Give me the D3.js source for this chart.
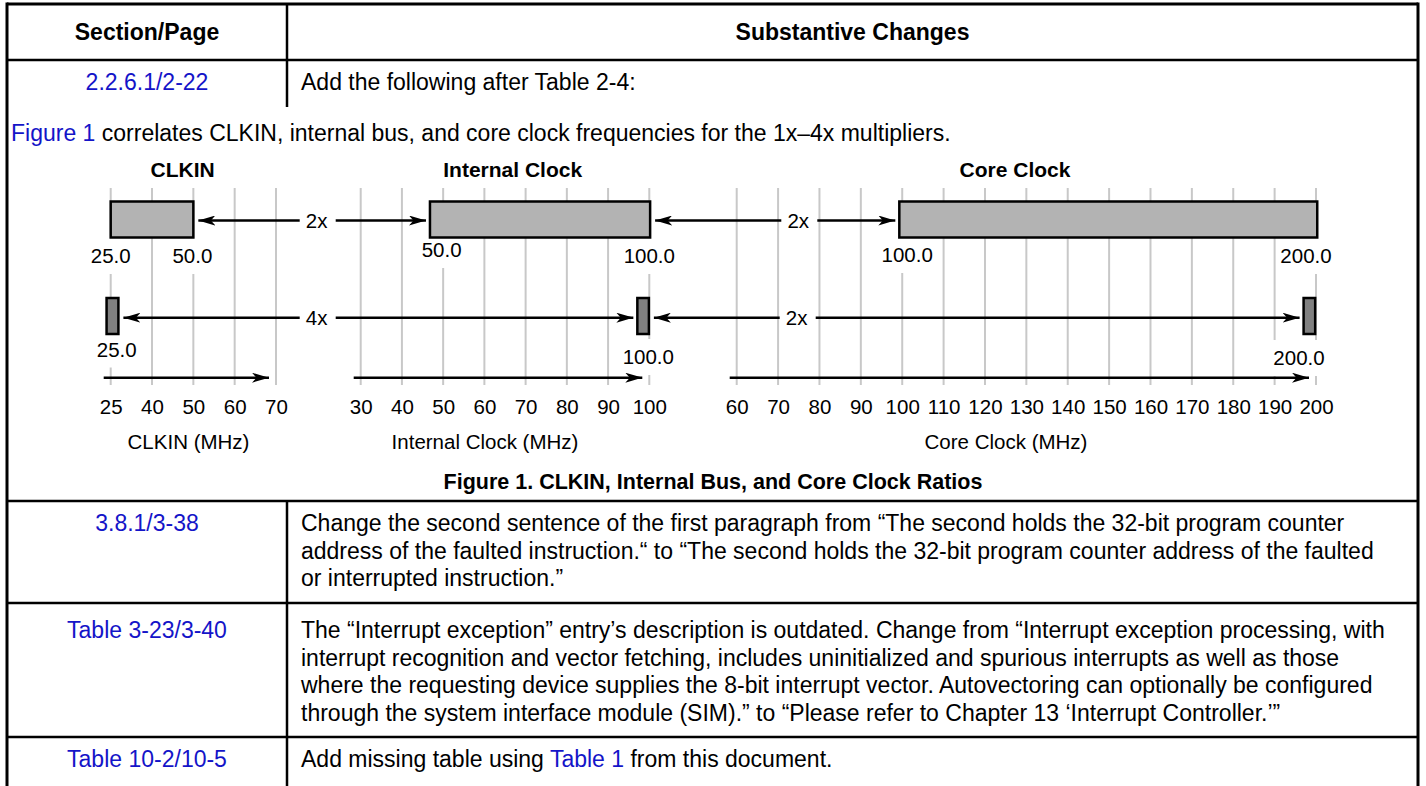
<!DOCTYPE html>
<html><head><meta charset="utf-8">
<script src="https://cdn.jsdelivr.net/npm/d3@7"></script>
<style>
body{margin:0;background:#fff}
svg{display:block}
text{font-family:"Liberation Sans",Arial,Helvetica,sans-serif;fill:#000}
</style>
</head><body>
<svg id="c" width="1426" height="786"></svg>
<script>
// ---------------- data ----------------
const panelNames = ["CLKIN", "Internal Clock", "Core Clock"];
const axisTitles = ["CLKIN (MHz)", "Internal Clock (MHz)", "Core Clock (MHz)"];
const clkinTicks = [25, 40, 50, 60, 70];
const internalTicks = [30, 40, 50, 60, 70, 80, 90, 100];
const coreTicks = [60, 70, 80, 90, 100, 110, 120, 130, 140, 150, 160, 170, 180, 190, 200];
// 2x row: range bars (MHz, as drawn)
const rangeBarStart = [25, 46.8, 99.3];
const rangeBarEnd = [50, 100.2, 200.3];
// 4x row: narrow bars (MHz, as drawn)
const pointBarStart = [23.5, 97.1, 197.0];
const pointBarEnd = [27.8, 99.9, 199.8];
const rangeLabelValues = [[25, 50], [50, 100], [100, 200]];
const rangeLabelText = [["25.0", "50.0"], ["50.0", "100.0"], ["100.0", "200.0"]];
const pointLabelValues = [25, 100, 200];
const pointLabelText = ["25.0", "100.0", "200.0"];
const ratioRow1 = ["2x", "2x"];
const ratioRow2 = ["4x", "2x"];

const headerCols = ["Section/Page", "Substantive Changes"];
const sectionRefs = ["2.2.6.1/2-22", "3.8.1/3-38", "Table 3-23/3-40", "Table 10-2/10-5"];
const row1Text = ["Add the following after Table 2-4:"];
const figIntro = [["Figure 1", true], [" correlates CLKIN, internal bus, and core clock frequencies for the 1x\u20134x multipliers.", false]];
const caption = "Figure 1. CLKIN, Internal Bus, and Core Clock Ratios";
const row2Text = [
  "Change the second sentence of the first paragraph from \u201CThe second holds the 32-bit program counter",
  "address of the faulted instruction.\u201C to \u201CThe second holds the 32-bit program counter address of the faulted",
  "or interrupted instruction.\u201D"
];
const row3Text = [
  "The \u201CInterrupt exception\u201D entry\u2019s description is outdated. Change from \u201CInterrupt exception processing, with",
  "interrupt recognition and vector fetching, includes uninitialized and spurious interrupts as well as those",
  "where the requesting device supplies the 8-bit interrupt vector. Autovectoring can optionally be configured",
  "through the system interface module (SIM).\u201D to \u201CPlease refer to Chapter 13 \u2018Interrupt Controller.\u2019\u201D"
];
const row4Text = [["Add missing table using ", false], ["Table 1", true], [" from this document.", false]];

// ---------------- layout ----------------
const W = 1426, H = 786;
const BLUE = "#1414c8";
const svg = d3.select("#c");
const L = 7, R = 1418, TOP = 4, DIV = 287;
const bodyFS = 23, figFS = 20.5, figTitleFS = 21;
const colTextX = 301, col1C = (L + DIV) / 2, col2C = (DIV + R) / 2;

// ---- table frame ----
const frame = svg.append("g").attr("stroke", "#000").attr("fill", "none");
frame.append("line").attr("x1", L).attr("x2", L).attr("y1", TOP - 1.5).attr("y2", H).attr("stroke-width", 3);
frame.append("line").attr("x1", R).attr("x2", R).attr("y1", TOP - 1.5).attr("y2", H).attr("stroke-width", 3);
frame.append("line").attr("x1", L).attr("x2", R).attr("y1", TOP).attr("y2", TOP).attr("stroke-width", 3);
[60, 501, 603, 737].forEach(y =>
  frame.append("line").attr("x1", L).attr("x2", R).attr("y1", y).attr("y2", y).attr("stroke-width", 2.5));
frame.append("line").attr("x1", DIV).attr("x2", DIV).attr("y1", TOP).attr("y2", 107).attr("stroke-width", 2.5);
frame.append("line").attr("x1", DIV).attr("x2", DIV).attr("y1", 501).attr("y2", H).attr("stroke-width", 2.5);

// ---- header ----
const hdr = svg.append("g").attr("font-size", bodyFS).attr("font-weight", "bold").attr("text-anchor", "middle");
hdr.append("text").attr("x", col1C).attr("y", 40).text(headerCols[0]);
hdr.append("text").attr("x", col2C).attr("y", 40).text(headerCols[1]);

// ---- section refs ----
const refY = [90, 531, 638, 767];
svg.append("g").attr("font-size", bodyFS).attr("text-anchor", "middle")
  .selectAll("text").data(sectionRefs).join("text")
  .attr("x", col1C).attr("y", (d, i) => refY[i]).style("fill", BLUE).text(d => d);

// ---- body text ----
const lh = 27.6;
function lines(arr, y0) {
  svg.append("g").attr("font-size", bodyFS).selectAll("text").data(arr).join("text")
    .attr("x", colTextX).attr("y", (d, i) => y0 + i * lh).text(d => d);
}
lines(row1Text, 90);
lines(row2Text, 531);
lines(row3Text, 638);
function mixed(parts, x, y) {
  const t = svg.append("text").attr("x", x).attr("y", y).attr("font-size", bodyFS);
  parts.forEach(p => t.append("tspan").style("fill", p[1] ? BLUE : "#000").text(p[0]));
}
mixed(figIntro, 11, 141);
mixed(row4Text, colTextX, 767);

// caption
svg.append("text").attr("x", 713).attr("y", 488.5).attr("font-size", 21.5).attr("font-weight", "bold")
  .attr("text-anchor", "middle").text(caption);

// ---------------- figure ----------------
const tickSets = [clkinTicks, internalTicks, coreTicks];
const panelRange = [[110.7, 276], [360.7, 649.3], [736.7, 1316]];
const scales = tickSets.map((t, i) => {
  const [r0, r1] = panelRange[i];
  return d3.scaleLinear().domain(t).range(t.map((_, j) => r0 + j * (r1 - r0) / (t.length - 1)));
});

const gridTop = 188, gridBot = 385;
const fig = svg.append("g");
const gridG = fig.append("g");
const labelG = fig.append("g");
const barG = fig.append("g");
const arrowG = fig.append("g");

// defs: arrowhead
svg.append("defs").append("marker").attr("id", "ah")
  .attr("viewBox", "0 0 17 10").attr("refX", 17).attr("refY", 5)
  .attr("markerWidth", 17).attr("markerHeight", 10)
  .attr("markerUnits", "userSpaceOnUse").attr("orient", "auto")
  .append("path").attr("d", "M0,0 L17,5 L0,10 L4.5,5 Z").attr("fill", "#000");

// gridlines + axes
tickSets.forEach((ticks, i) => {
  const x = scales[i];
  gridG.selectAll(null).data(ticks).join("line")
    .attr("x1", d => x(d)).attr("x2", d => x(d))
    .attr("y1", gridTop).attr("y2", gridBot)
    .attr("stroke", "#c8c8c8").attr("stroke-width", 2);

  const ax = fig.append("g").attr("transform", "translate(0,399)")
    .call(d3.axisBottom(x).tickValues(ticks).tickSize(0).tickPadding(0).tickFormat(d3.format("d")));
  ax.select(".domain").remove();
  ax.selectAll("text").attr("font-size", figFS).attr("font-family", "Liberation Sans, Arial, sans-serif")
    .attr("fill", "#000").attr("dy", "0.71em");

  // axis arrow
  arrowG.append("line")
    .attr("x1", x(ticks[0]) - 7).attr("x2", x(ticks[ticks.length - 1]) - 7)
    .attr("y1", 377.7).attr("y2", 377.7)
    .attr("stroke", "#000").attr("stroke-width", 2.5).attr("marker-end", "url(#ah)");
});

// panel titles & axis titles
const titleX = [182.7, 512.7, 1015];
const axisTitleX = [188.5, 485, 1006];
fig.append("g").attr("font-size", figTitleFS).attr("font-weight", "bold").attr("text-anchor", "middle")
  .selectAll("text").data(panelNames).join("text")
  .attr("x", (d, i) => titleX[i]).attr("y", 177).text(d => d);
fig.append("g").attr("font-size", figFS).attr("text-anchor", "middle")
  .selectAll("text").data(axisTitles).join("text")
  .attr("x", (d, i) => axisTitleX[i]).attr("y", 449).text(d => d);

// value labels with white boxes (they break the gridlines)
function boxedLabel(x, yc, txt) {
  const g = labelG.append("g");
  const r = g.append("rect").attr("fill", "#fff");
  const t = g.append("text").attr("x", x).attr("y", yc + 7).attr("font-size", figFS)
    .attr("text-anchor", "middle").text(txt);
  const w = t.node().getComputedTextLength();
  r.attr("x", x - w / 2 - 2).attr("width", w + 4).attr("y", yc - 18).attr("height", 36);
}
const rangeLabelNudge = [[0, -1], [-1.5, 0], [5, -10]];
const rangeLabelY = [[256, 256], [250, 256], [255, 256]];
rangeLabelValues.forEach((vals, i) => vals.forEach((v, j) =>
  boxedLabel(scales[i](v) + rangeLabelNudge[i][j], rangeLabelY[i][j], rangeLabelText[i][j])));
const pointLabelNudge = [6, -1, -17];
const pointLabelY = [349.5, 357, 358];
pointLabelValues.forEach((v, i) =>
  boxedLabel(scales[i](v) + pointLabelNudge[i], pointLabelY[i], pointLabelText[i]));

// bars
const row1Y = [201.5, 237.5], row2Y = [298, 334];
barG.selectAll(".rb").data(panelNames).join("rect").attr("class", "rb")
  .attr("x", (d, i) => scales[i](rangeBarStart[i]))
  .attr("width", (d, i) => scales[i](rangeBarEnd[i]) - scales[i](rangeBarStart[i]))
  .attr("y", row1Y[0]).attr("height", row1Y[1] - row1Y[0])
  .attr("fill", "#b3b3b3").attr("stroke", "#000").attr("stroke-width", 2.5);
barG.selectAll(".pb").data(panelNames).join("rect").attr("class", "pb")
  .attr("x", (d, i) => scales[i](pointBarStart[i]))
  .attr("width", (d, i) => scales[i](pointBarEnd[i]) - scales[i](pointBarStart[i]))
  .attr("y", row2Y[0]).attr("height", row2Y[1] - row2Y[0])
  .attr("fill", "#808080").attr("stroke", "#000").attr("stroke-width", 2.5);

// ratio arrows between bars
function ratioRow(labels, starts, ends, yc, labelX) {
  labels.forEach((lab, g) => {
    const lx = labelX[g];
    const leftTip = scales[g](ends[g]) + 5;
    const rightTip = scales[g + 1](starts[g + 1]) - 4;
    arrowG.append("line").attr("x1", lx - 17).attr("x2", leftTip).attr("y1", yc).attr("y2", yc)
      .attr("stroke", "#000").attr("stroke-width", 2.5).attr("marker-end", "url(#ah)");
    arrowG.append("line").attr("x1", lx + 19).attr("x2", rightTip).attr("y1", yc).attr("y2", yc)
      .attr("stroke", "#000").attr("stroke-width", 2.5).attr("marker-end", "url(#ah)");
    arrowG.append("text").attr("x", lx).attr("y", yc + 7).attr("font-size", figFS)
      .attr("text-anchor", "middle").text(lab);
  });
}
ratioRow(ratioRow1, rangeBarStart, rangeBarEnd, (row1Y[0] + row1Y[1]) / 2 + 1, [316.7, 798.3]);
ratioRow(ratioRow2, pointBarStart, pointBarEnd, 317.7, [316.7, 796.7]);
</script>
</body></html>
